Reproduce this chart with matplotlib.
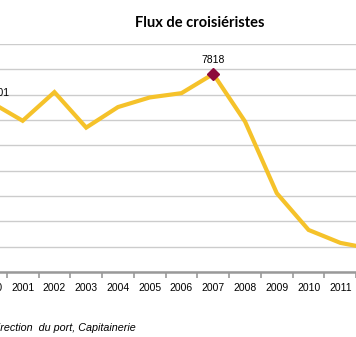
import matplotlib.pyplot as plt

years = ["2000", "2001", "2002", "2003", "2004", "2005", "2006",
         "2007", "2008", "2009", "2010", "2011", "2012"]
passengers = [6701, 5970, 7100, 5700, 6510, 6890, 7060,
              7818, 5940, 3110, 1660, 1150, 910]
# labelled points and where their label sits (offset in points)
labelled = {"2000": (6701, (5, 6.5)), "2007": (7818, (0, 10))}

line_color = "#F5C22A"
marker_color = "#8E0A3C"
grid_color = "#CCCCCC"

fig = plt.figure(figsize=(3.56, 3.37), dpi=100)
# the plot area is wider than the picture (chart is cropped on both sides)
ax = fig.add_axes([-25 / 356, 65 / 337, 413 / 356, 228 / 337])

x = list(range(len(years)))
ax.plot(x, passengers, color=line_color, linewidth=3, solid_joinstyle="miter", zorder=3)

i = years.index("2007")
ax.plot([i], [passengers[i]], marker="D", markersize=6, color=marker_color, zorder=4)

for year, (value, offset) in labelled.items():
    ax.annotate(str(value), (years.index(year), value), xytext=offset,
                textcoords="offset points", ha="center", va="center",
                fontsize=7.5, family="Liberation Sans")

ax.set_xlim(-0.5, len(years) - 0.5)
ax.set_ylim(0, 9000)
ax.set_yticks(range(0, 9001, 1000))
ax.yaxis.grid(True, color=grid_color, linewidth=1)
ax.set_axisbelow(True)
ax.tick_params(axis="y", left=False, labelleft=False)

# ticks between categories, labels at centers
ax.set_xticks([v - 0.5 for v in x] + [len(years) - 0.5])
ax.set_xticklabels([])
ax.set_xticks(x, minor=True)
ax.set_xticklabels(years, minor=True, fontsize=7.5, family="Liberation Sans")
ax.tick_params(axis="x", which="major", length=4, width=1.2, color="#999999", direction="out")
ax.tick_params(axis="x", which="minor", length=0, pad=8)

for side in ["top", "right", "left"]:
    ax.spines[side].set_visible(False)
ax.spines["bottom"].set_color("#999999")
ax.spines["bottom"].set_linewidth(1.8)

fig.text(200 / 356, 1 - 23 / 337, "Flux de croisiéristes", ha="center", va="center",
         fontsize=10.5, fontweight="bold", family="Lato")
fig.text(136 / 356, 1 - 328 / 337, "Source : Direction  du port, Capitainerie",
         ha="right", va="center", fontsize=7.75, style="italic", family="Liberation Sans")

fig.savefig("out.png", dpi=100)
